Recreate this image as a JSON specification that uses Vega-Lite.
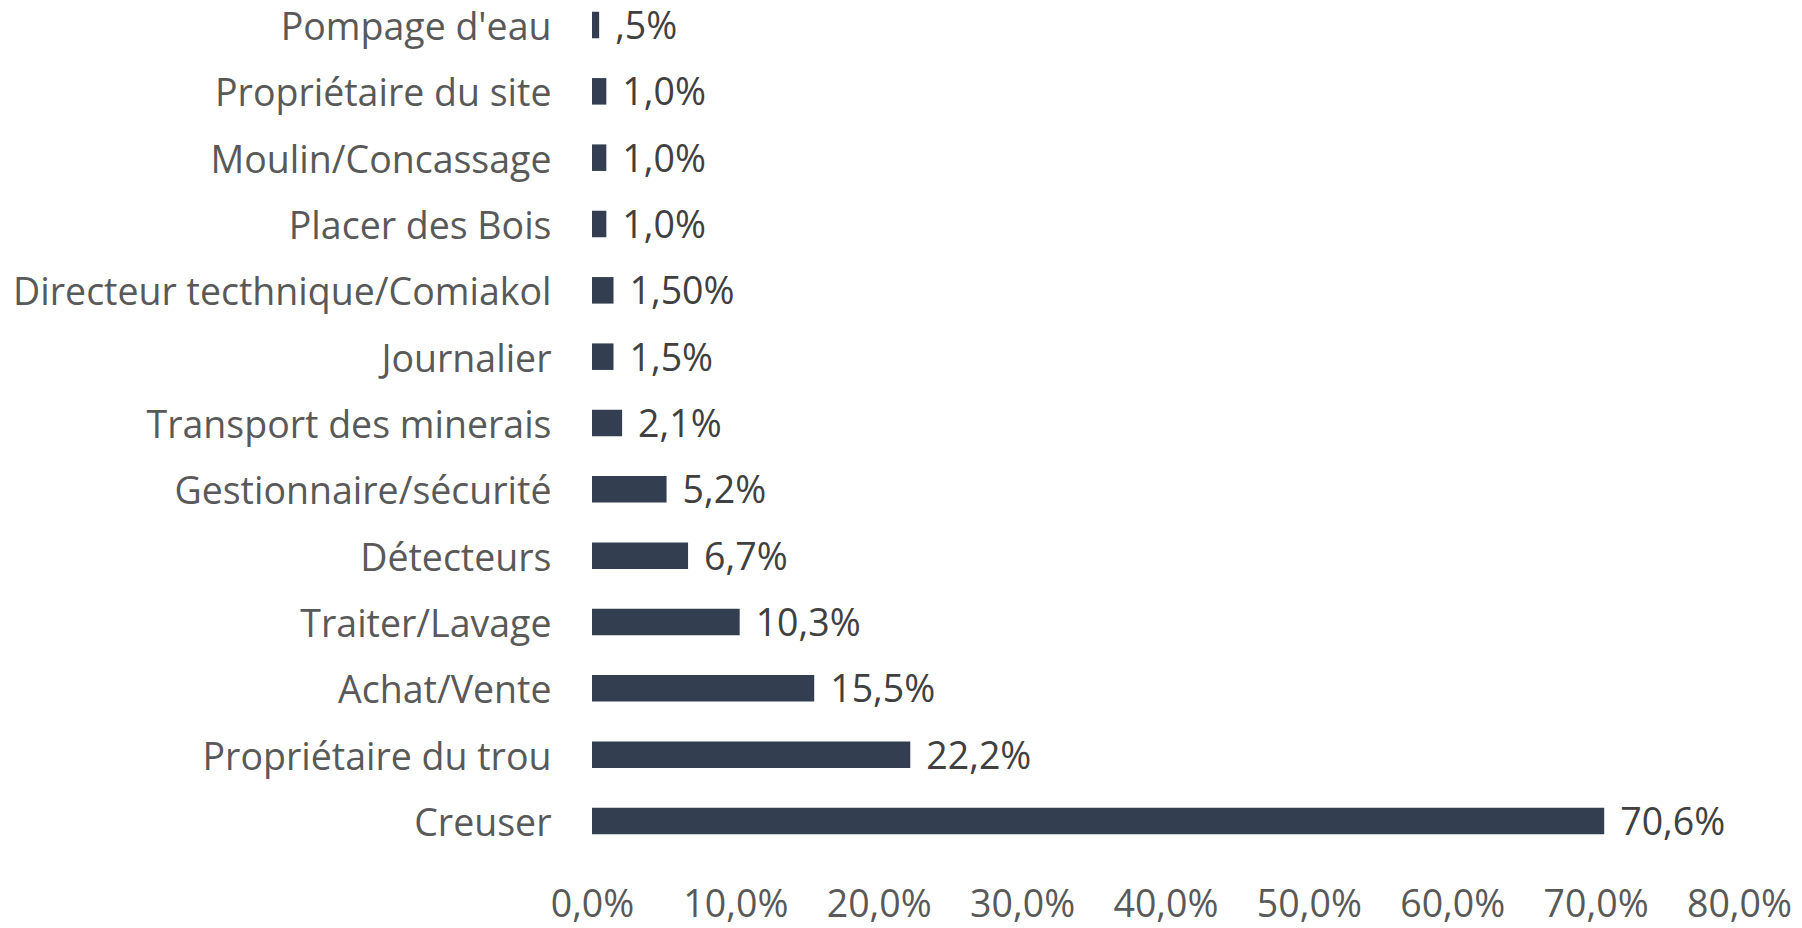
{
  "$schema": "https://vega.github.io/schema/vega-lite/v6.json",
  "autosize": "none",
  "width": 1147,
  "height": 846,
  "padding": {"left": 592, "top": 0, "right": 63, "bottom": 82},
  "background": "white",
  "data": {"values": [
    {"cat": "Pompage d'eau", "v": 0.005, "lab": ",5%"},
    {"cat": "Propriétaire du site", "v": 0.010, "lab": "1,0%"},
    {"cat": "Moulin/Concassage", "v": 0.010, "lab": "1,0%"},
    {"cat": "Placer des Bois", "v": 0.010, "lab": "1,0%"},
    {"cat": "Directeur tecthnique/Comiakol", "v": 0.015, "lab": "1,50%"},
    {"cat": "Journalier", "v": 0.015, "lab": "1,5%"},
    {"cat": "Transport des minerais", "v": 0.021, "lab": "2,1%"},
    {"cat": "Gestionnaire/sécurité", "v": 0.052, "lab": "5,2%"},
    {"cat": "Détecteurs", "v": 0.067, "lab": "6,7%"},
    {"cat": "Traiter/Lavage", "v": 0.103, "lab": "10,3%"},
    {"cat": "Achat/Vente", "v": 0.155, "lab": "15,5%"},
    {"cat": "Propriétaire du trou", "v": 0.222, "lab": "22,2%"},
    {"cat": "Creuser", "v": 0.706, "lab": "70,6%"}
  ]},
  "encoding": {
    "y": {"field": "cat", "type": "nominal", "sort": null, "title": null,
      "scale": {"paddingInner": 0.6, "paddingOuter": 0.177},
      "axis": {"domain": false, "ticks": false, "labelFont": "Open Sans", "labelFontSize": 37.5, "labelColor": "#595959", "labelPadding": 41, "labelOffset": 4, "labelLimit": 700}},
    "x": {"field": "v", "type": "quantitative", "title": null,
      "scale": {"domain": [0, 0.8], "nice": false},
      "axis": {"values": [0, 0.1, 0.2, 0.3, 0.4, 0.5, 0.6, 0.7, 0.8], "grid": false, "domain": false, "ticks": false,
        "labelExpr": "replace(format(datum.value, '.1%'), '.', ',')",
        "labelFont": "Open Sans", "labelFontSize": 37.5, "labelColor": "#595959", "labelPadding": 40, "labelFlush": false, "labelOverlap": false}}
  },
  "layer": [
    {"mark": {"type": "bar", "color": "#333F50"}},
    {"mark": {"type": "text", "align": "left", "baseline": "middle", "dx": 16, "dy": 3, "font": "Open Sans", "fontSize": 37.5, "color": "#404040"},
      "encoding": {"text": {"field": "lab"}}}
  ],
  "config": {"view": {"stroke": null}}
}
